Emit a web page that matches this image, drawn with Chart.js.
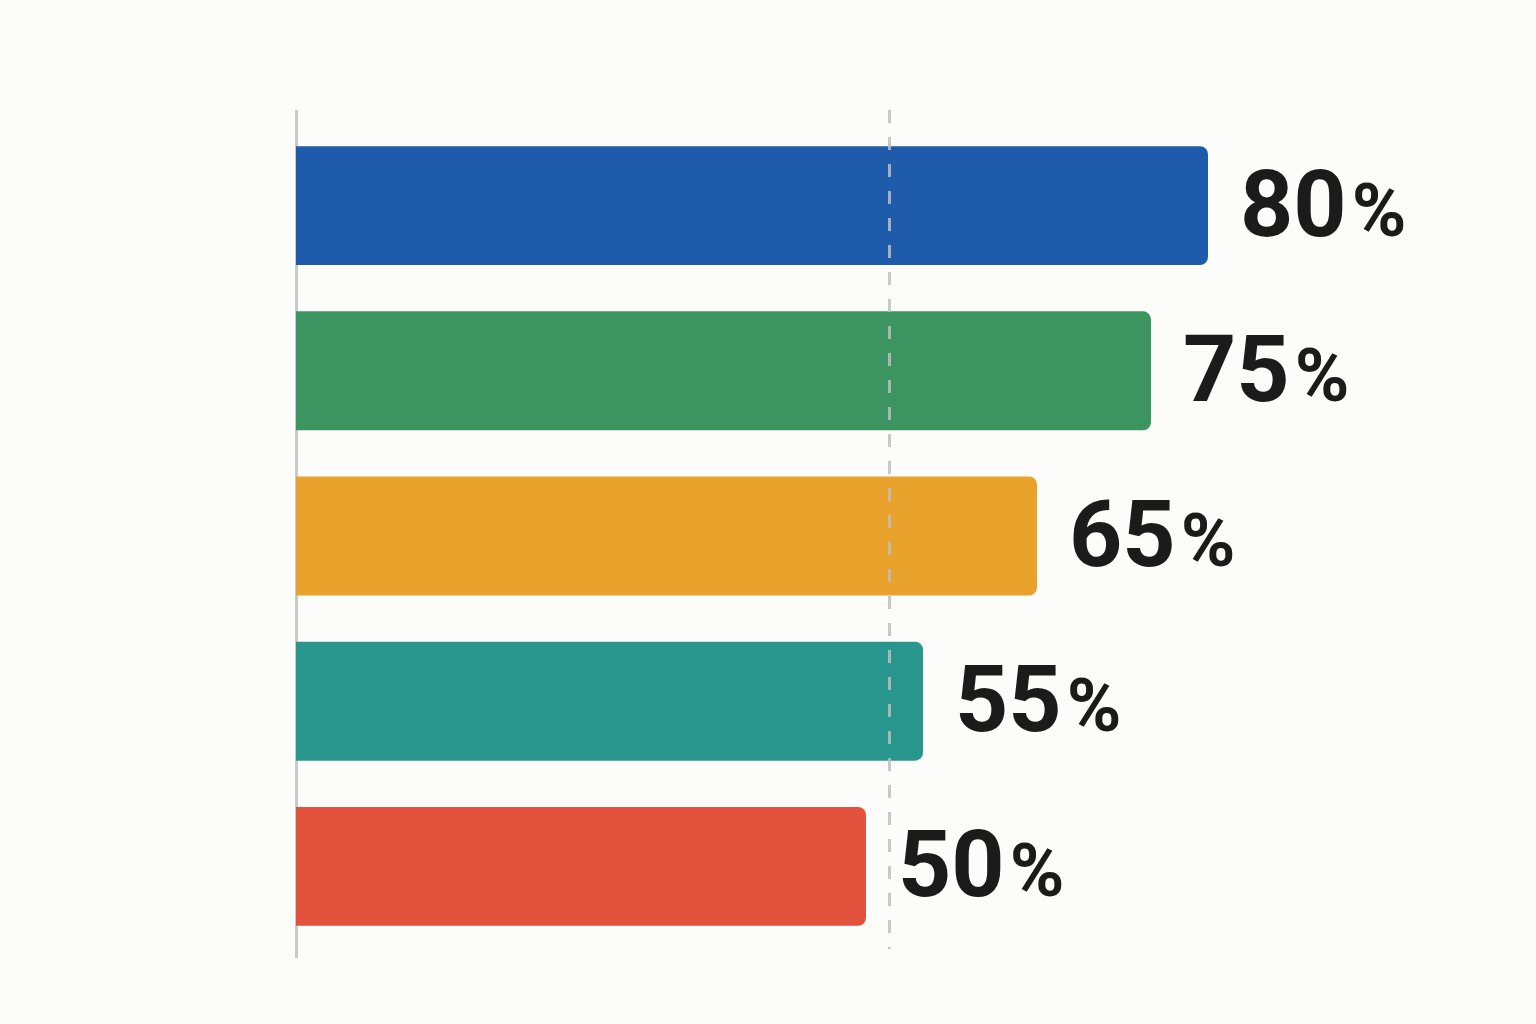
<!DOCTYPE html>
<html>
<head>
<meta charset="utf-8">
<script src="https://cdn.jsdelivr.net/npm/chart.js@4"></script>
<style>
  html, body { margin: 0; padding: 0; background: #fcfcfa; }
  #wrap { width: 1536px; height: 1024px; position: relative; }
</style>
</head>
<body>
<div id="wrap"><canvas id="barChart"></canvas></div>
<script>
    const categories = ['A', 'B', 'C', 'D', 'E'];
    const values = [80, 75, 65, 55, 50];
    const barColors = ['#1e5baa', '#3c9560', '#e9a22b', '#28968c', '#e2523c'];
    const refValue = 52;

    // lines at zero and at the reference value, plus the big % labels
    const overlay = {
        id: 'overlay',
        beforeDatasetsDraw(chart) {
            const { ctx, chartArea, scales } = chart;
            const x0 = Math.round(scales.x.getPixelForValue(0)) + 0.5;
            ctx.save();
            ctx.strokeStyle = '#c9c9c9';
            ctx.lineWidth = 3;
            ctx.beginPath();
            ctx.moveTo(x0, chartArea.top - 13);
            ctx.lineTo(x0, chartArea.bottom + 9);
            ctx.stroke();
            ctx.restore();
        },
        afterDatasetsDraw(chart) {
            const { ctx, chartArea, scales } = chart;
            const xr = Math.round(scales.x.getPixelForValue(refValue)) + 0.5;
            ctx.save();
            ctx.strokeStyle = 'rgba(190, 190, 190, 0.85)';
            ctx.lineWidth = 3;
            ctx.setLineDash([13, 14]);
            ctx.beginPath();
            ctx.moveTo(xr, chartArea.top - 13);
            ctx.lineTo(xr, chartArea.bottom);
            ctx.stroke();
            ctx.setLineDash([]);

            const meta = chart.getDatasetMeta(0);
            ctx.fillStyle = '#1b1b1b';
            ctx.textBaseline = 'alphabetic';
            ctx.textAlign = 'left';
            meta.data.forEach((bar, i) => {
                const x = bar.x + 32;
                const y = bar.y + 30;
                const num = String(values[i]);
                ctx.font = "700 93px Roboto, sans-serif";
                ctx.fillText(num, x, y);
                const w = ctx.measureText(num).width;
                ctx.font = "700 74px Roboto, sans-serif";
                ctx.fillText('%', x + w + 5, y);
            });
            ctx.restore();
        }
    };

    const ctx = document.getElementById('barChart').getContext('2d');
    new Chart(ctx, {
        type: 'bar',
        data: {
            labels: categories,
            datasets: [{
                data: values,
                backgroundColor: barColors,
                borderWidth: 0,
                borderRadius: 8,
                borderSkipped: 'start',
                categoryPercentage: 1,
                barPercentage: 0.72
            }]
        },
        options: {
            indexAxis: 'y',
            responsive: true,
            maintainAspectRatio: false,
            animation: false,
            layout: {
                padding: { left: 296, right: 100, top: 123, bottom: 75 }
            },
            scales: {
                x: { display: false, min: 0, max: 100 },
                y: { display: false }
            },
            plugins: {
                legend: { display: false },
                tooltip: { enabled: false }
            }
        },
        plugins: [overlay]
    });
</script>
</body>
</html>
